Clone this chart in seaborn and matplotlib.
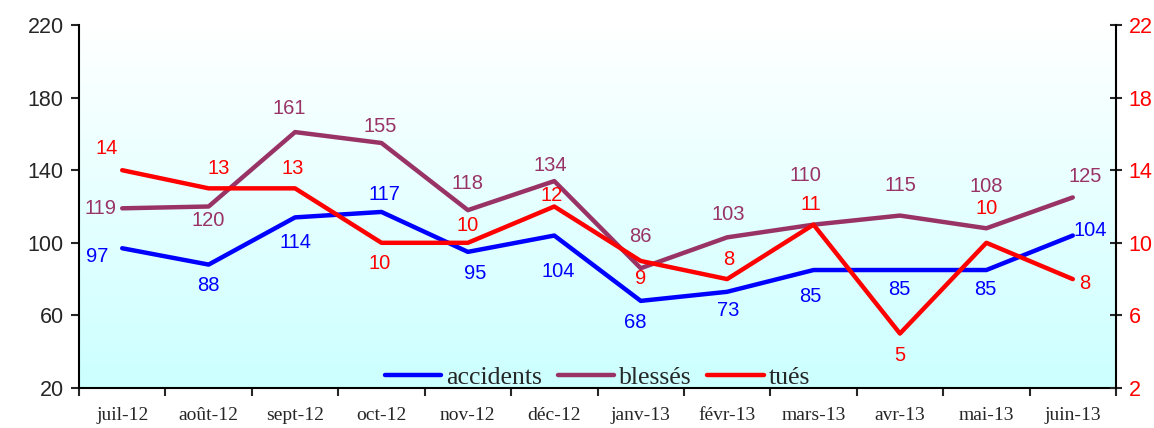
import numpy as np
import pandas as pd
import matplotlib
matplotlib.use("Agg")
import matplotlib.pyplot as plt
import seaborn as sns

months = ["juil-12", "août-12", "sept-12", "oct-12", "nov-12", "déc-12",
          "janv-13", "févr-13", "mars-13", "avr-13", "mai-13", "juin-13"]
accidents = [97, 88, 114, 117, 95, 104, 68, 73, 85, 85, 85, 104]
blesses = [119, 120, 161, 155, 118, 134, 86, 103, 110, 115, 108, 125]
tues = [14, 13, 13, 10, 10, 12, 9, 8, 11, 5, 10, 8]

# label offsets in pixels (dx, dy up positive)
acc_off = [(-25, -8), (0, -21), (0, -25), (3, 17), (7, -22), (4, -36),
           (-5, -22), (1, -19), (-3, -26), (-1, -19), (-1, -19), (17, 5)]
bl_off = [(-22, 0), (0, -14), (-6, 24), (-1, 16), (0, 27), (-4, 16),
          (0, 32), (1, 23), (-8, 49), (0, 30), (0, 42), (12, 21)]
tu_off = [(-16, 22), (10, 20), (-2, 20), (-2, -21), (0, 17), (-3, 11),
          (0, -18), (2, 20), (-3, 20), (0, -22), (0, 34), (12, -4)]

C_ACC = "#0000FF"
C_BL = "#993366"
C_TU = "#FF0000"

sns.set_style("ticks")
plt.rcParams["font.family"] = ["Liberation Sans", "DejaVu Sans"]

W, H = 1154, 428
fig = plt.figure(figsize=(W / 100, H / 100), dpi=100)
ax = fig.add_axes([79 / W, 40 / H, (1116 - 79) / W, (388 - 25) / H])
ax2 = ax.twinx()

df = pd.DataFrame({"mois": months, "accidents": accidents, "blessés": blesses, "tués": tues})
x = np.arange(len(months))

# gradient background: white at top, light cyan at bottom
grad = np.linspace(0, 1, 256).reshape(-1, 1)
cmap = matplotlib.colors.LinearSegmentedColormap.from_list("g", ["#FFFFFF", "#CCFFFF"])
ax.imshow(grad, aspect="auto", cmap=cmap, extent=(-0.5, 11.5, 20, 220), zorder=0, origin="upper")

sns.lineplot(x=x, y=df["accidents"], ax=ax, color=C_ACC, lw=3.2, label="accidents", legend=False, zorder=3)
sns.lineplot(x=x, y=df["blessés"], ax=ax, color=C_BL, lw=3.2, label="blessés", legend=False, zorder=3)
sns.lineplot(x=x, y=df["tués"], ax=ax2, color=C_TU, lw=3.2, label="tués", legend=False, zorder=3)

ax.set_xlim(-0.5, 11.5)
ax.set_ylim(20, 220)
ax2.set_ylim(2, 22)
ax.set_yticks(range(20, 221, 40))
ax2.set_yticks(range(2, 23, 4))
ax.set_xlabel("")
ax.set_ylabel("")
ax2.set_ylabel("")

ax.set_xticks(x)
ax.set_xticklabels(months, fontfamily="Liberation Serif", fontsize=14)
ax.set_xticks(np.arange(-0.5, 12, 1), minor=True)
ax.tick_params(axis="x", which="major", length=0, pad=14)
ax.tick_params(axis="x", which="minor", length=6, width=1.5, direction="out")
ax.tick_params(axis="y", length=6, width=1.5, direction="out", labelsize=15.5, pad=5)
ax2.tick_params(axis="y", length=8, width=1.5, direction="inout", labelsize=15.5, labelcolor=C_TU, pad=5)

for a in (ax, ax2):
    a.spines["top"].set_visible(False)
    for s in ("left", "right", "bottom"):
        a.spines[s].set_linewidth(1.5)
        a.spines[s].set_color("black")
ax2.spines["left"].set_visible(False)
ax2.spines["bottom"].set_visible(False)
ax.spines["right"].set_visible(False)

ax.set_zorder(1)
ax2.set_zorder(2)
ax2.patch.set_visible(False)

pt = 0.72
FS = 14.5
for i in range(len(months)):
    ax.annotate(str(accidents[i]), (x[i], accidents[i]), xytext=(acc_off[i][0] * pt, acc_off[i][1] * pt),
                textcoords="offset points", ha="center", va="center", color=C_ACC, fontsize=FS, zorder=5)
    ax.annotate(str(blesses[i]), (x[i], blesses[i]), xytext=(bl_off[i][0] * pt, bl_off[i][1] * pt),
                textcoords="offset points", ha="center", va="center", color=C_BL, fontsize=FS, zorder=5)
    ax2.annotate(str(tues[i]), (x[i], tues[i]), xytext=(tu_off[i][0] * pt, tu_off[i][1] * pt),
                 textcoords="offset points", ha="center", va="center", color=C_TU, fontsize=FS, zorder=5)

h1, l1 = ax.get_legend_handles_labels()
h2, l2 = ax2.get_legend_handles_labels()
leg = ax2.legend(h1 + h2, l1 + l2, loc="lower center", bbox_to_anchor=(0.5, -0.03), ncol=3, frameon=False,
                 prop={"family": "Liberation Serif", "size": 18.5}, handlelength=2.2, handletextpad=0.2,
                 columnspacing=0.6, borderaxespad=0)

fig.savefig("out.png", dpi=100)
